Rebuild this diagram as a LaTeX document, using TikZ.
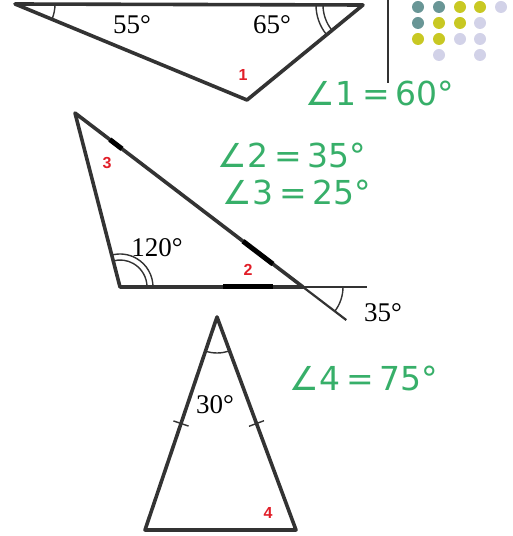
\documentclass[tikz,border=0pt]{standalone}
\usepackage{fontspec}
\setmainfont{Liberation Serif}
\newfontfamily\gfont{DejaVu Sans}
\newfontfamily\rfont{Liberation Sans}
\usetikzlibrary{calc}
\definecolor{ln}{RGB}{51,51,51}
\definecolor{grn}{RGB}{55,175,105}
\definecolor{rd}{RGB}{225,30,40}
\definecolor{dteal}{RGB}{105,150,150}
\definecolor{dyel}{RGB}{200,200,35}
\definecolor{dlav}{RGB}{210,210,232}
\newcommand{\angeq}[2]{∠#1\hspace{6pt}=\hspace{6pt}#2°}
\tikzset{
  tri/.style={draw=ln, line width=3.6pt, line join=round, line cap=round},
  thinl/.style={draw=ln, line width=2.2pt},
  marc/.style={draw=ln, line width=1.4pt},
  thick mark/.style={draw=black, line width=5pt},
  deg/.style={font=\fontsize{27}{27}\selectfont, inner sep=0pt},
  rnum/.style={font=\rfont\bfseries\fontsize{16}{16}\selectfont, text=rd, inner sep=0pt},
  gtext/.style={font=\gfont\fontsize{33}{33}\selectfont, text=grn, inner sep=0pt},
  dot/.style={circle, minimum size=12pt, inner sep=0pt},
}
\begin{document}
\begin{tikzpicture}[x=1pt,y=1pt]
\useasboundingbox (0,0) rectangle (513,536);
% ---- top triangle
\coordinate (L) at (15,532);
\coordinate (R) at (363,531);
\coordinate (B) at (247,436);
\draw[tri] (L) -- (R) -- (B) -- cycle;
\draw[marc] ([shift={(-22.5:40)}]L) arc (-22.5:0:40);
\draw[marc] ([shift={(180:40)}]R) arc (180:219.3:40);
\draw[marc] ([shift={(180:47)}]R) arc (180:219.3:47);
\node[deg] (a55) at (132,511) {55°};
\node[deg] (a65) at (272,511) {65°};
\node[rnum] (n1) at (243,461) {1};
\node[gtext] (g1) at (380,443) {\angeq{1}{60}};
% vertical line
\coordinate (vt) at (388,536);
\coordinate (vb) at (388,453);
\draw[draw=ln, line width=2.2pt] (vt) -- (vb);
% dots
\foreach \x/\y/\c [count=\i] in {418/529/dteal,439/529/dteal,460/529/dyel,480/529/dyel,501/529/dlav,
  418/513/dteal,439/513/dyel,460/513/dyel,480/513/dlav,
  418/497/dyel,439/497/dyel,460/497/dlav,480/497/dlav,
  439/481/dlav,480/481/dlav}
  \node[dot, fill=\c] (d\i) at (\x,\y) {};
% ---- middle triangle
\coordinate (A) at (75,423);
\coordinate (Bv) at (120,249);
\coordinate (X) at (303,249);
\coordinate (E) at ($(A)!1.19!(X)$);
\coordinate (BE) at (367,249);
\draw[thinl] (X) -- (E);
\draw[thinl] (X) -- (BE);
\draw[tri] (A) -- (Bv) -- (X) -- cycle;
\draw[thick mark] ($(A)!0.153!(X)$) -- ($(A)!0.206!(X)$);
\draw[thick mark] ($(A)!0.737!(X)$) -- ($(A)!0.868!(X)$);
\coordinate (m1) at (223,249);
\coordinate (m2) at (273,249);
\draw[thick mark] (m1) -- (m2);
\draw[marc] ([shift={(0:27)}]Bv) arc (0:104.5:27);
\draw[marc] ([shift={(0:33)}]Bv) arc (0:104.5:33);
\draw[marc] ([shift={(-37.4:40)}]X) arc (-37.4:0:40);
\node[rnum] (n3) at (107,373) {3};
\node[deg] (a120) at (157,288) {120°};
\node[rnum] (n2) at (248,266) {2};
\node[deg] (a35) at (383,223) {35°};
\node[gtext] (g2) at (292,381) {\angeq{2}{35}};
\node[gtext] (g3) at (297,344) {\angeq{3}{25}};
% ---- bottom triangle
\coordinate (P) at (217,219);
\coordinate (Q) at (145,6);
\coordinate (S) at (296,6);
\draw[tri] (P) -- (Q) -- (S) -- cycle;
\draw[marc] ([shift={(-108.7:36)}]P) arc (-108.7:-69.6:36);
\draw[marc] ($(P)!0.5!(Q)!8pt!90:(P)$) -- ($(P)!0.5!(Q)!8pt!-90:(P)$);
\draw[marc] ($(P)!0.5!(S)!8pt!90:(P)$) -- ($(P)!0.5!(S)!8pt!-90:(P)$);
\node[deg] (a30) at (215,131) {30°};
\node[rnum] (n4) at (268,23) {4};
\node[gtext] (g4) at (364,158) {\angeq{4}{75}};
\end{tikzpicture}
\end{document}
